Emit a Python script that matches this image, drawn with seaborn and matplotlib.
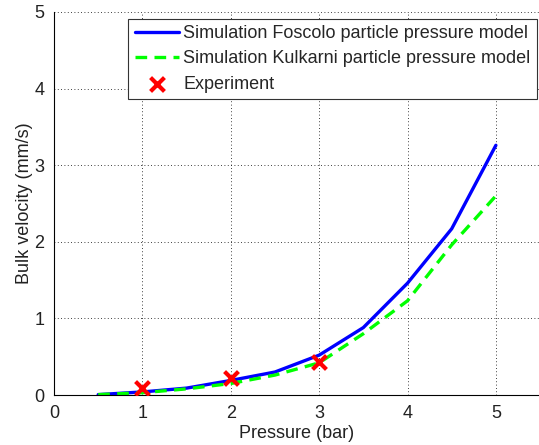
import numpy as np
import pandas as pd
import matplotlib
matplotlib.use("Agg")
import matplotlib.pyplot as plt
import seaborn as sns

# data
pressure = [0.5, 1.0, 1.5, 2.0, 2.5, 3.0, 3.5, 4.0, 4.5, 5.0]
foscolo = [0.005, 0.04, 0.09, 0.19, 0.30, 0.52, 0.88, 1.46, 2.17, 3.26]
kulkarni = [0.005, 0.03, 0.08, 0.15, 0.26, 0.42, 0.80, 1.23, 1.96, 2.60]
exp_pressure = [1, 2, 3]
exp_velocity = [0.09, 0.22, 0.43]

sns.set_style("white")
plt.rcParams['font.family'] = ['Liberation Sans', 'DejaVu Sans']

df = pd.DataFrame({"p": pressure, "f": foscolo, "k": kulkarni})
df_exp = pd.DataFrame({"p": exp_pressure, "v": exp_velocity})

W, H = 539, 445
fig = plt.figure(figsize=(W / 100, H / 100), dpi=100)
ax = fig.add_axes([54 / W, 1 - 395 / H, 1 - 54 / W + 0.002, (395 - 12) / H])

sns.lineplot(data=df, x="p", y="f", ax=ax, color="#0000ff", lw=2.4,
             label="Simulation Foscolo particle pressure model")
sns.lineplot(data=df, x="p", y="k", ax=ax, color="#00ff00", lw=2.4,
             linestyle=(0, (3.5, 2.2)),
             label="Simulation Kulkarni particle pressure model")
sns.scatterplot(data=df_exp, x="p", y="v", ax=ax, marker="x", color="#ff0000",
                s=100, linewidth=3, label="Experiment", zorder=5)

ax.set_xlim(0, 5.5)
ax.set_ylim(0, 5)
ax.set_xticks([0, 1, 2, 3, 4, 5])
ax.set_yticks([0, 1, 2, 3, 4, 5])
ax.grid(True, linestyle=(0, (1, 3)), color="black", lw=0.6)
ax.tick_params(direction="in", length=4, labelsize=13, colors="black",
               labelcolor="#222222", pad=7)
for side in ["top", "right"]:
    ax.spines[side].set_visible(False)
for side in ["left", "bottom"]:
    ax.spines[side].set_color("black")
    ax.spines[side].set_linewidth(0.8)

ax.set_xlabel("Pressure (bar)", fontsize=13, color="#222222", labelpad=2)
ax.set_ylabel("Bulk velocity (mm/s)", fontsize=13, color="#222222", labelpad=1)

leg = ax.legend(loc="upper right", bbox_to_anchor=(537 / W, 1 - 19 / H),
                bbox_transform=fig.transFigure, borderaxespad=0,
                fontsize=13, frameon=True, fancybox=False,
                edgecolor="#333333", framealpha=1, borderpad=0.35,
                handlelength=2.45, handletextpad=0.25, labelspacing=0.45)
leg.get_frame().set_linewidth(0.8)

fig.savefig("out.png", dpi=100)
